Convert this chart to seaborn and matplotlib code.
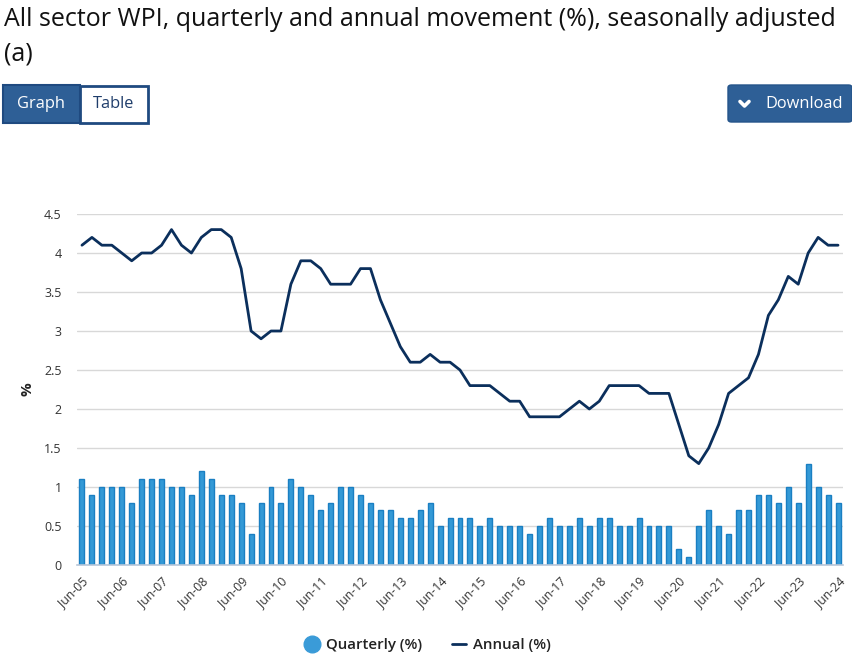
import matplotlib
matplotlib.use("Agg")
import matplotlib.pyplot as plt
from matplotlib.patches import Rectangle, FancyBboxPatch
from matplotlib.lines import Line2D
import seaborn as sns
import pandas as pd
import numpy as np

# ---- data ----
years = list(range(2005, 2025))
quarters = []
for y in years:
    for m in ["Mar", "Jun", "Sep", "Dec"]:
        quarters.append(f"{m}-{y % 100:02d}")
quarters = quarters[1:-2]  # Jun-05 .. Jun-24

quarterly = [1.1, 0.9, 1.0, 1.0, 1.0, 0.8, 1.1, 1.1, 1.1, 1.0, 1.0, 0.9, 1.2, 1.1, 0.9, 0.9,
             0.8, 0.4, 0.8, 1.0, 0.8, 1.1, 1.0, 0.9, 0.7, 0.8, 1.0, 1.0, 0.9, 0.8, 0.7, 0.7,
             0.6, 0.6, 0.7, 0.8, 0.5, 0.6, 0.6, 0.6, 0.5, 0.6, 0.5, 0.5, 0.5, 0.4, 0.5, 0.6,
             0.5, 0.5, 0.6, 0.5, 0.6, 0.6, 0.5, 0.5, 0.6, 0.5, 0.5, 0.5, 0.2, 0.1, 0.5, 0.7,
             0.5, 0.4, 0.7, 0.7, 0.9, 0.9, 0.8, 1.0, 0.8, 1.3, 1.0, 0.9, 0.8]
annual = [4.1, 4.2, 4.1, 4.1, 4.0, 3.9, 4.0, 4.0, 4.1, 4.3, 4.1, 4.0, 4.2, 4.3, 4.3, 4.2,
          3.8, 3.0, 2.9, 3.0, 3.0, 3.6, 3.9, 3.9, 3.8, 3.6, 3.6, 3.6, 3.8, 3.8, 3.4, 3.1,
          2.8, 2.6, 2.6, 2.7, 2.6, 2.6, 2.5, 2.3, 2.3, 2.3, 2.2, 2.1, 2.1, 1.9, 1.9, 1.9,
          1.9, 2.0, 2.1, 2.0, 2.1, 2.3, 2.3, 2.3, 2.3, 2.2, 2.2, 2.2, 1.8, 1.4, 1.3, 1.5,
          1.8, 2.2, 2.3, 2.4, 2.7, 3.2, 3.4, 3.7, 3.6, 4.0, 4.2, 4.1, 4.1]
tick_labels = ["Jun-05", "Jun-06", "Jun-07", "Jun-08", "Jun-09", "Jun-10", "Jun-11",
               "Jun-12", "Jun-13", "Jun-14", "Jun-15", "Jun-16", "Jun-17", "Jun-18",
               "Jun-19", "Jun-20", "Jun-21", "Jun-22", "Jun-23", "Jun-24"]
y_ticks = [0, 0.5, 1, 1.5, 2, 2.5, 3, 3.5, 4, 4.5]

df = pd.DataFrame({"quarter": quarters, "pos": np.arange(len(quarters)),
                   "Quarterly (%)": quarterly, "Annual (%)": annual})

# ---- style ----
sns.set_style("white")
plt.rcParams["font.family"] = ["Open Sans", "DejaVu Sans"]

W, H = 853, 660
fig = plt.figure(figsize=(W / 100, H / 100), dpi=100)

def fx(px):
    return px / W

def fy(py):
    return 1 - py / H

ax = fig.add_axes([fx(77), fy(565), fx(843) - fx(77), fy(214) - fy(565)])

BAR = "#3399d6"
BAR_EDGE = "#1a7fc2"
LINE = "#0b2f5c"

sns.barplot(data=df, x="pos", y="Quarterly (%)", native_scale=True, ax=ax,
            color=BAR, width=0.5, edgecolor=BAR_EDGE, linewidth=1.0, saturation=1)
sns.lineplot(data=df, x="pos", y="Annual (%)", ax=ax, color=LINE, linewidth=2.0)

ax.set_xlim(-0.5, len(quarters) - 0.5)
ax.set_ylim(0, 4.5)
ax.set_yticks(y_ticks)
ax.set_yticklabels([f"{v:g}" for v in y_ticks])
tick_pos = [quarters.index(t) for t in tick_labels]
ax.set_xticks(tick_pos)
ax.set_xticklabels(tick_labels, rotation=45, ha="right", rotation_mode="anchor")
ax.tick_params(axis="x", length=0, pad=7, labelsize=8.8, labelcolor="#333333")
ax.tick_params(axis="y", length=0, pad=11, labelsize=9.0, labelcolor="#333333")
ax.set_axisbelow(True)
ax.grid(axis="y", color="#d8d8d8", linewidth=1.0)
for s in ["top", "right", "left"]:
    ax.spines[s].set_visible(False)
ax.spines["bottom"].set_color("#b8c6d8")
ax.spines["bottom"].set_linewidth(1.2)
ax.set_xlabel("")
ax.set_ylabel("%", fontsize=11, fontweight="bold", color="#222222")
ax.yaxis.set_label_coords(-(77 - 34) / (843 - 77), 0.5)

# ---- title ----
fig.text(fx(4), fy(20), "All sector WPI, quarterly and annual movement (%), seasonally adjusted",
         fontsize=18.0, color="#111111", va="center", ha="left")
fig.text(fx(4), fy(54), "(a)", fontsize=18.0, color="#111111", va="center", ha="left")

# ---- buttons ----
BLUE = "#2e5f96"
fig.patches.append(Rectangle((fx(3), fy(123)), fx(80) - fx(3), fy(85) - fy(123),
                             transform=fig.transFigure, facecolor=BLUE, edgecolor="#1f4a80",
                             linewidth=1.5))
fig.patches.append(Rectangle((fx(80), fy(122.5)), fx(148) - fx(80), fy(85.5) - fy(122.5),
                             transform=fig.transFigure, facecolor="white", edgecolor="#1f4a80",
                             linewidth=2))
fig.text(fx(41.5), fy(104), "Graph", color="white", fontsize=11.8, ha="center", va="center")
fig.text(fx(114), fy(104), "Table", color="#1f3d6b", fontsize=11.8, ha="center", va="center")

fig.patches.append(FancyBboxPatch((fx(728), fy(122)), fx(852) - fx(728), fy(85) - fy(122),
                                  boxstyle="round,pad=0,rounding_size=0.004",
                                  transform=fig.transFigure, facecolor=BLUE,
                                  edgecolor="#24548a", linewidth=1))
fig.add_artist(Line2D([fx(740), fx(744.5), fx(749)], [fy(101.5), fy(106), fy(101.5)],
                      transform=fig.transFigure, color="white", linewidth=2.6,
                      solid_capstyle="round", solid_joinstyle="round"))
fig.text(fx(765), fy(104), "Download", color="white", fontsize=11.8, ha="left", va="center")

# ---- legend ----
handles = [Line2D([0], [0], marker="o", linestyle="none", markersize=12,
                  markerfacecolor="#3a9bd8", markeredgecolor="#3a9bd8"),
           Line2D([0], [0], color=LINE, linewidth=2)]
fig.legend(handles, ["Quarterly (%)", "Annual (%)"], loc="center",
           bbox_to_anchor=(fx(428), fy(645)), ncol=2, frameon=False,
           prop={"size": 10.8, "weight": "semibold"}, labelcolor="#222222",
           handlelength=0.9, handletextpad=0.5, columnspacing=2.0)

fig.savefig("out.png", dpi=100)
